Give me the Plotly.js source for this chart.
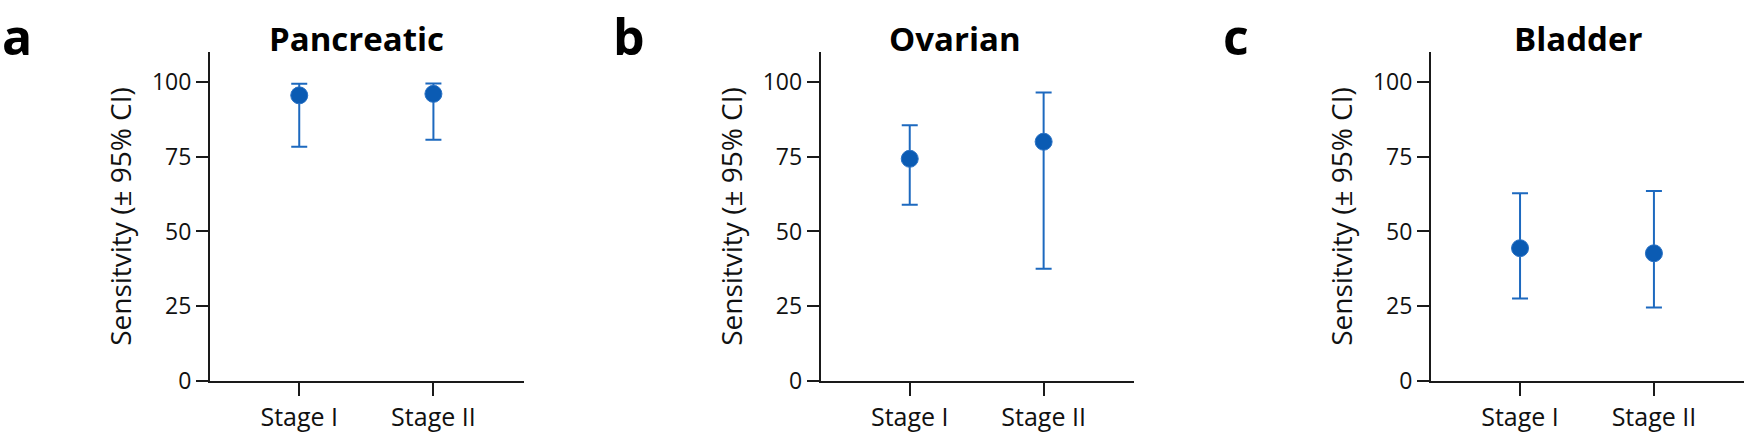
<!DOCTYPE html>
<html>
<head>
<meta charset="utf-8">
<script src="https://cdn.plot.ly/plotly-3.0.1.min.js"></script>
<style>html,body{margin:0;padding:0;background:#fff;}#chart{width:1746px;height:435px;}</style>
</head>
<body>
<div id="chart"></div>
<script>
// ---- data ----
const categories = ['Stage I', 'Stage II'];
const panelTitles = ['Pancreatic', 'Ovarian', 'Bladder'];
const panelLetters = ['a', 'b', 'c'];

const pancreaticSens  = [95.5, 96.0];
const pancreaticUpper = [99.4, 99.5];
const pancreaticLower = [78.3, 80.7];

const ovarianSens  = [74.3, 80.0];
const ovarianUpper = [85.5, 96.5];
const ovarianLower = [58.9, 37.5];

const bladderSens  = [44.4, 42.7];
const bladderUpper = [62.8, 63.5];
const bladderLower = [27.6, 24.6];

const yTicks = [0, 25, 50, 75, 100];
const yTitle = 'Sensitvity (± 95% CI)';

// ---- build ----
const W = 1746, H = 435;
const FONT = 'Open Sans, Lato, sans-serif';
const markerColor = '#0b5bb3';
const errColor = '#1d69bf';
const axisColor = '#1a1a1a';

const series = [
  [pancreaticSens, pancreaticUpper, pancreaticLower],
  [ovarianSens, ovarianUpper, ovarianLower],
  [bladderSens, bladderUpper, bladderLower]
];

const xDomPx = [[210, 524], [820.7, 1134], [1431, 1744.3]];
const yDom = [(H - 381) / H, (H - 52) / H];
const titleCenters = [356, 955, 1578];
const letterLeft = [0, 611, 1221];

const traces = [];
const layout = {
  width: W, height: H,
  margin: {l: 0, r: 0, t: 0, b: 0},
  paper_bgcolor: '#fff', plot_bgcolor: '#fff',
  showlegend: false,
  font: {family: FONT, color: '#111'},
  annotations: []
};

series.forEach((s, i) => {
  const [vals, up, lo] = s;
  const n = i === 0 ? '' : String(i + 1);
  traces.push({
    type: 'scatter', mode: 'markers',
    x: categories, y: vals,
    xaxis: 'x' + n, yaxis: 'y' + n,
    marker: {size: 17, color: markerColor, line: {color: '#2a72c5', width: 1}},
    error_y: {
      type: 'data', symmetric: false,
      array: vals.map((v, k) => up[k] - v),
      arrayminus: vals.map((v, k) => v - lo[k]),
      color: errColor, thickness: 2, width: 8
    },
    cliponaxis: false,
    hoverinfo: 'skip'
  });
  layout['xaxis' + n] = {
    domain: [xDomPx[i][0] / W, xDomPx[i][1] / W],
    anchor: 'y' + n,
    type: 'category',
    range: [-0.665, 1.675],
    showline: true, linecolor: axisColor, linewidth: 2,
    ticks: 'outside', ticklen: 13, tickwidth: 2, tickcolor: axisColor,
    showgrid: false, zeroline: false,
    tickfont: {family: FONT, size: 25, color: '#111'},
    fixedrange: true
  };
  layout['yaxis' + n] = {
    domain: yDom,
    anchor: 'x' + n,
    range: [0, 110],
    tickvals: yTicks,
    ticktext: yTicks.map(String),
    showline: true, linecolor: axisColor, linewidth: 2,
    ticks: 'outside', ticklen: 12, tickwidth: 2, tickcolor: axisColor,
    showgrid: false, zeroline: false,
    tickfont: {family: FONT, size: 23, color: '#111'},
    title: {text: yTitle, font: {family: FONT, size: 28, color: '#111'}, standoff: 12},
    fixedrange: true
  };
  layout.annotations.push({
    xref: 'paper', yref: 'paper',
    x: titleCenters[i] / W, y: (H - 38) / H,
    xanchor: 'center', yanchor: 'middle',
    text: '<b>' + panelTitles[i] + '</b>',
    showarrow: false,
    font: {family: FONT, size: 33, color: '#000'}
  });
  layout.annotations.push({
    xref: 'paper', yref: 'paper',
    x: letterLeft[i] / W, y: 1,
    xanchor: 'left', yanchor: 'top',
    text: '<b>' + panelLetters[i] + '</b>',
    showarrow: false,
    font: {family: FONT, size: 50, color: '#000'}
  });
});

Plotly.newPlot('chart', traces, layout, {displayModeBar: false, staticPlot: true});
</script>
</body>
</html>
